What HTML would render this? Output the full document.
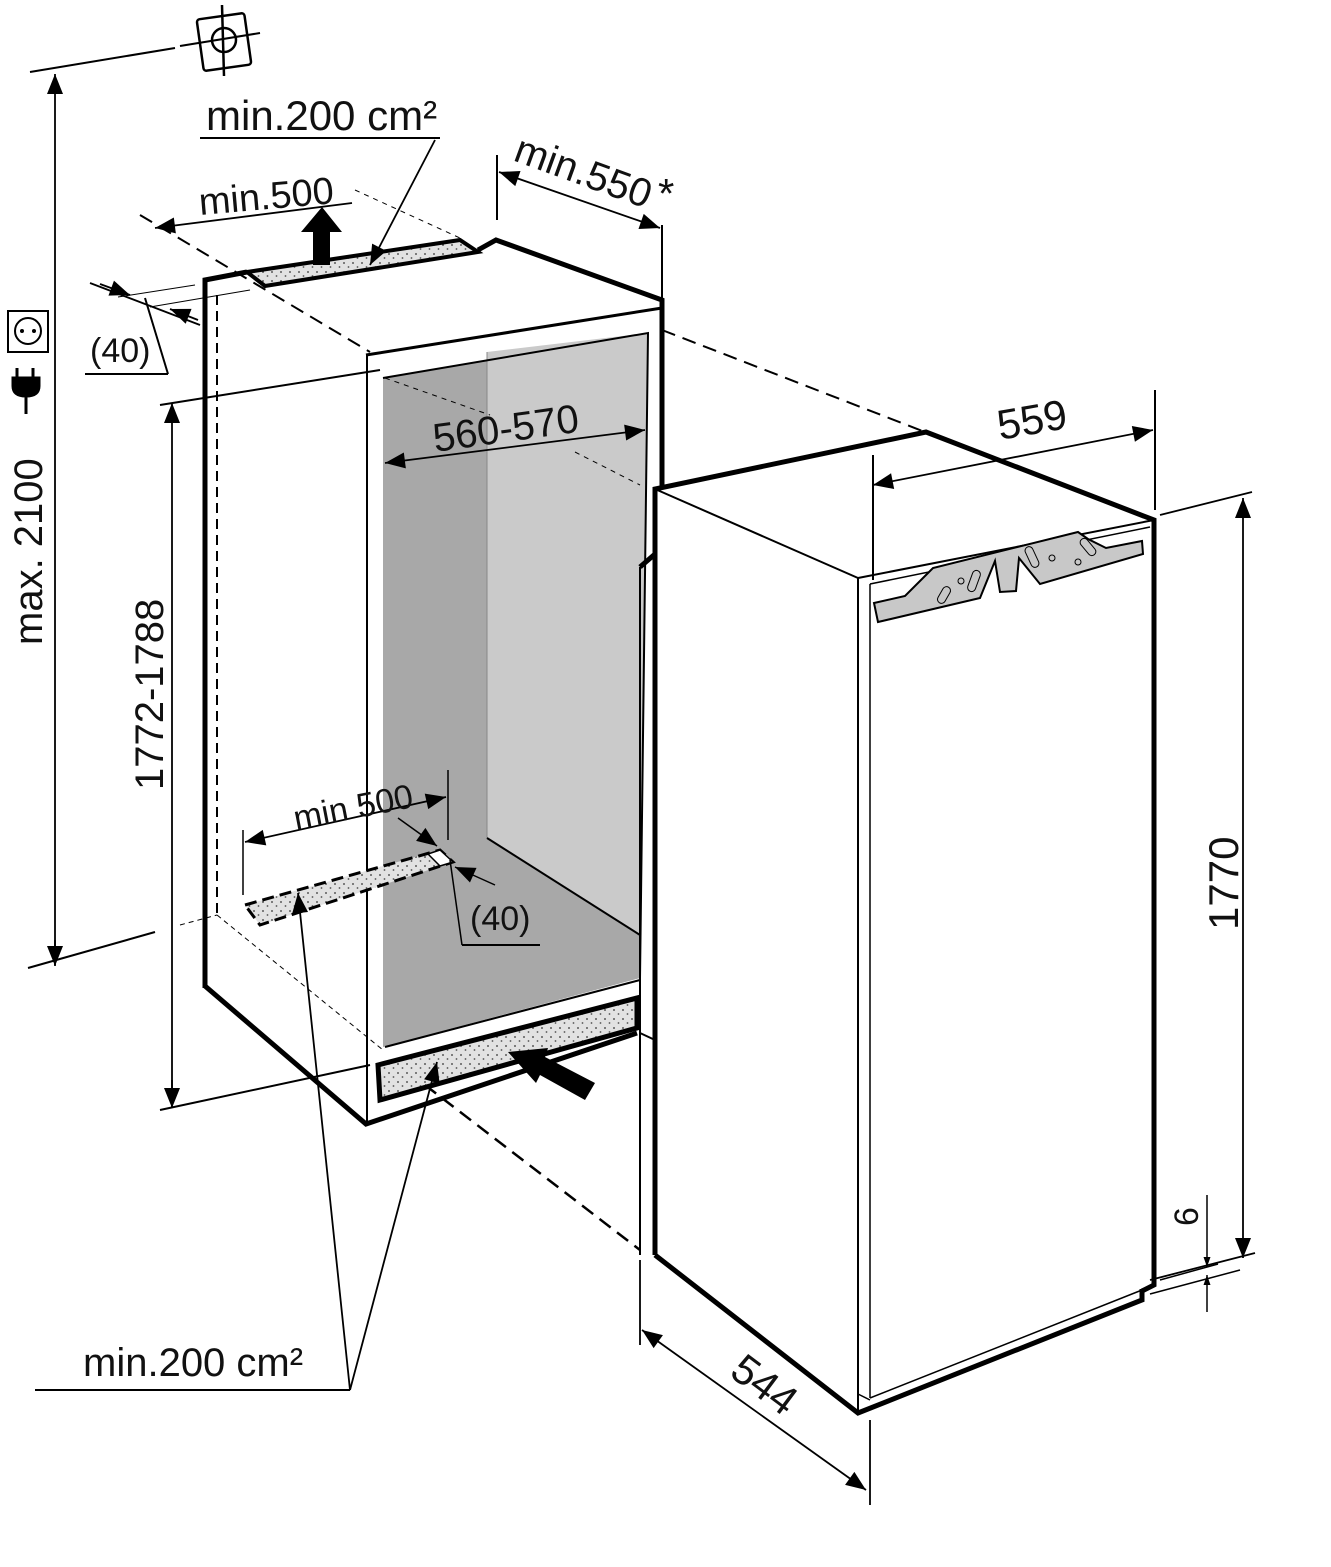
<!DOCTYPE html>
<html><head><meta charset="utf-8"><style>
html,body{margin:0;padding:0;background:#fff;}
svg{display:block;}
text{font-family:"Liberation Sans",Arial,sans-serif;fill:#111;}
</style></head><body>
<svg width="1331" height="1567" viewBox="0 0 1331 1567" xmlns="http://www.w3.org/2000/svg">
<defs>
<marker id="a" viewBox="0 0 10 10" refX="10" refY="5" markerWidth="10" markerHeight="10" markerUnits="userSpaceOnUse" orient="auto-start-reverse"><path d="M0,1.5 L10,5 L0,8.5 z" fill="#000"/></marker>
<marker id="A" viewBox="0 0 10 10" refX="10" refY="5" markerWidth="28" markerHeight="20" markerUnits="userSpaceOnUse" orient="auto-start-reverse"><path d="M0,1 L10,5 L0,9 z" fill="#000"/></marker>
<pattern id="dots" width="9" height="9" patternUnits="userSpaceOnUse"><rect width="9" height="9" fill="#e2e2e2"/><circle cx="2" cy="2" r="0.9" fill="#333"/><circle cx="6.5" cy="6" r="0.9" fill="#555"/></pattern>
</defs>
<g fill="none" stroke="#000" stroke-linejoin="miter">

<polygon points="383,378 648,333 640,978 383,1047" fill="#a8a8a8" stroke="none"/>
<polygon points="487,352 648,333 640,935 487,838" fill="#cacaca" stroke="none"/>
<line x1="487" y1="352" x2="487" y2="838" stroke="#888" stroke-width="1"/>
<line x1="487" y1="838" x2="640" y2="935" stroke-width="2"/>
<polyline points="383,378 648,333 640,978" stroke-width="2"/>

<polyline points="205,988 205,280 247,272" stroke-width="5"/>
<polyline points="478,250 496,240 662,300 662,548 640,567" stroke-width="5"/>
<polyline points="205,986 366,1124 637,1033" stroke-width="5"/>
<line x1="367" y1="355" x2="367" y2="1122" stroke-width="2"/>
<line x1="366" y1="355" x2="662" y2="308" stroke-width="3"/>
<line x1="640" y1="567" x2="640" y2="1255" stroke-width="2"/>
<line x1="655" y1="1040" x2="640" y2="1033" stroke-width="2"/>
<line x1="217" y1="295" x2="217" y2="915" stroke-width="2" stroke-dasharray="10,6"/>
<line x1="217" y1="915" x2="383" y2="1050" stroke-width="1" stroke-dasharray="5,4"/>
<line x1="385" y1="1047" x2="640" y2="980" stroke-width="2"/>

<polygon points="247,272 460,240 478,252 265,286" fill="url(#dots)" stroke-width="4"/>
<polygon points="245,905 440,850 453,862 260,925" fill="url(#dots)" stroke-width="3" stroke-dasharray="12,6"/>
<polygon points="440,850 453,862 440,866 428,854" fill="#fff" stroke-width="1.5"/>
<polygon points="378,1065 637,998 637,1028 380,1100" fill="url(#dots)" stroke-width="5"/>
<polygon points="595,1083 585,1100 540,1075 536,1083 508,1052 548,1048 545,1057" fill="#000" stroke="none"/>
<polygon points="313,265 313,232 301,232 322,207 342,232 330,232 330,265" fill="#000" stroke="none"/>

<line x1="140" y1="215" x2="370" y2="352" stroke-width="2" stroke-dasharray="14,8"/>
<line x1="355" y1="190" x2="460" y2="238" stroke-width="1" stroke-dasharray="5,5"/>
<line x1="662" y1="330" x2="925" y2="432" stroke-width="2" stroke-dasharray="14,8"/>
<line x1="385" y1="378" x2="490" y2="415" stroke-width="1" stroke-dasharray="5,5"/>
<line x1="575" y1="452" x2="640" y2="485" stroke-width="1" stroke-dasharray="5,5"/>
<line x1="425" y1="1085" x2="640" y2="1250" stroke-width="2.5" stroke-dasharray="14,8"/>
<line x1="180" y1="925" x2="217" y2="915" stroke-width="1" stroke-dasharray="5,4"/>

<polygon points="655,487 926,432 1154,520 1154,1285 1142,1291 1142,1300 858,1413 655,1255" fill="#fff" stroke="none"/>
<polyline points="655,1255 655,489 926,432 1154,520 1154,1285 1142,1291" stroke-width="5"/>
<polyline points="655,1255 858,1413 1142,1300 1142,1289" stroke-width="5"/>
<line x1="655" y1="489" x2="858" y2="578" stroke-width="2"/>
<line x1="858" y1="578" x2="1154" y2="520" stroke-width="2"/>
<line x1="858" y1="578" x2="858" y2="1411" stroke-width="2"/>
<line x1="870" y1="584" x2="870" y2="1398" stroke-width="1.5"/>
<line x1="870" y1="1398" x2="1142" y2="1290" stroke-width="1.5"/>
<line x1="858" y1="1394" x2="870" y2="1400" stroke-width="1.5"/>
<line x1="870" y1="584" x2="1150" y2="527" stroke-width="1.5"/>
<polygon points="874,603 905,596 926,575 933,568 1078,532 1088,539 1106,548 1142,541 1143,554 1040,584 1019,558 1016,591 1000,592 995,561 980,598 878,622" fill="#c8c8c8" stroke-width="2"/>
<g stroke-width="1" fill="none">
<rect x="940" y="586" width="8" height="18" rx="4" transform="rotate(30 944 595)"/>
<rect x="970" y="570" width="8" height="22" rx="4" transform="rotate(20 974 581)"/>
<rect x="1028" y="546" width="8" height="22" rx="4" transform="rotate(-25 1032 557)"/>
<rect x="1084" y="537" width="8" height="20" rx="4" transform="rotate(-40 1088 547)"/>
<circle cx="961" cy="581" r="3"/><circle cx="1052" cy="558" r="3"/><circle cx="1078" cy="562" r="3"/>
</g>

<line x1="497" y1="155" x2="497" y2="220" stroke-width="2"/>
<line x1="662" y1="225" x2="662" y2="300" stroke-width="2"/>
<line x1="499" y1="172" x2="660" y2="228" stroke-width="1.8" marker-start="url(#A)" marker-end="url(#A)"/>
<line x1="352" y1="203" x2="155" y2="228" stroke-width="1.8" marker-end="url(#A)"/>
<line x1="200" y1="138" x2="440" y2="138" stroke-width="2"/>
<line x1="435" y1="140" x2="370" y2="265" stroke-width="1.8" marker-end="url(#A)"/>
<line x1="90" y1="283" x2="200" y2="325" stroke-width="1.8"/>
<line x1="100" y1="284" x2="130" y2="295" stroke-width="1.8" marker-end="url(#A)"/>
<line x1="198" y1="320" x2="170" y2="309" stroke-width="1.8" marker-end="url(#A)"/>
<line x1="118" y1="297" x2="195" y2="285" stroke-width="1"/>
<line x1="150" y1="307" x2="250" y2="290" stroke-width="1"/>
<line x1="85" y1="374" x2="168" y2="374" stroke-width="2"/>
<line x1="168" y1="374" x2="145" y2="298" stroke-width="2"/>
<line x1="385" y1="463" x2="645" y2="430" stroke-width="1.8" marker-start="url(#A)" marker-end="url(#A)"/>
<line x1="243" y1="830" x2="243" y2="895" stroke-width="1.5"/>
<line x1="448" y1="770" x2="448" y2="840" stroke-width="1.5"/>
<line x1="245" y1="842" x2="446" y2="797" stroke-width="1.8" marker-start="url(#A)" marker-end="url(#A)"/>
<line x1="398" y1="818" x2="437" y2="846" stroke-width="1.5" marker-end="url(#A)"/>
<line x1="495" y1="885" x2="455" y2="867" stroke-width="1.5" marker-end="url(#A)"/>
<line x1="450" y1="860" x2="462" y2="945" stroke-width="1.5"/>
<line x1="462" y1="945" x2="540" y2="945" stroke-width="2"/>
<line x1="30" y1="72" x2="175" y2="48" stroke-width="2"/>
<line x1="180" y1="46" x2="260" y2="33" stroke-width="2"/>
<line x1="55" y1="965" x2="55" y2="74" stroke-width="1.8" marker-end="url(#A)"/>
<line x1="55" y1="940" x2="55" y2="966" stroke-width="1.8" marker-end="url(#A)"/>
<line x1="28" y1="968" x2="155" y2="932" stroke-width="2"/>
<rect x="200" y="16" width="48" height="52" rx="3" stroke-width="2.5" transform="rotate(-8 224 42)"/>
<circle cx="224" cy="40" r="12" stroke-width="2.5"/>
<line x1="222" y1="5" x2="224" y2="76" stroke-width="2.5"/>
<rect x="8" y="311" width="40" height="41" stroke-width="2"/>
<circle cx="28" cy="331" r="13" stroke-width="2"/>
<circle cx="22" cy="331" r="2" fill="#000" stroke="none"/>
<circle cx="34" cy="331" r="2" fill="#000" stroke="none"/>
<path d="M17,368 v10 M33,368 v10 M13,378 h26 v8 q0,10 -13,10 q-13,0 -13,-10 z M26,396 v18" stroke-width="3" fill="#000"/>
<line x1="160" y1="405" x2="380" y2="370" stroke-width="2"/>
<line x1="160" y1="1110" x2="370" y2="1065" stroke-width="2"/>
<line x1="172" y1="1108" x2="172" y2="403" stroke-width="1.8" marker-end="url(#A)"/>
<line x1="172" y1="1080" x2="172" y2="1108" stroke-width="1.8" marker-end="url(#A)"/>
<line x1="35" y1="1390" x2="350" y2="1390" stroke-width="2"/>
<line x1="350" y1="1390" x2="298" y2="893" stroke-width="1.8" marker-end="url(#A)"/>
<line x1="350" y1="1390" x2="437" y2="1062" stroke-width="1.8" marker-end="url(#A)"/>
<line x1="873" y1="455" x2="873" y2="580" stroke-width="2"/>
<line x1="1155" y1="390" x2="1155" y2="510" stroke-width="2"/>
<line x1="873" y1="485" x2="1153" y2="430" stroke-width="1.8" marker-start="url(#A)" marker-end="url(#A)"/>
<line x1="1160" y1="515" x2="1252" y2="492" stroke-width="1.8"/>
<line x1="1150" y1="1280" x2="1255" y2="1253" stroke-width="1.8"/>
<line x1="1243" y1="498" x2="1243" y2="1258" stroke-width="1.8" marker-start="url(#A)" marker-end="url(#A)"/>
<line x1="1160" y1="1280" x2="1218" y2="1264" stroke-width="1.5"/>
<line x1="1150" y1="1294" x2="1240" y2="1270" stroke-width="1.5"/>
<line x1="1207" y1="1195" x2="1207" y2="1267" stroke-width="1.5" marker-end="url(#a)"/>
<line x1="1207" y1="1312" x2="1207" y2="1275" stroke-width="1.5" marker-end="url(#a)"/>
<line x1="640" y1="1260" x2="640" y2="1345" stroke-width="1.8"/>
<line x1="870" y1="1420" x2="870" y2="1505" stroke-width="1.8"/>
<line x1="642" y1="1330" x2="866" y2="1490" stroke-width="1.8" marker-start="url(#A)" marker-end="url(#A)"/>
</g>

<text x="206" y="130" font-size="42">min.200 cm²</text>
<text x="200" y="215" font-size="38" transform="rotate(-5 200 215)">min.500</text>
<text x="512" y="160" font-size="40" transform="rotate(20 512 160)">min.550</text>
<text x="658" y="208" font-size="42">*</text>
<text x="90" y="362" font-size="34">(40)</text>
<text x="435" y="452" font-size="40" transform="rotate(-8 435 452)">560-570</text>
<text x="296" y="830" font-size="34" transform="rotate(-11 296 830)">min 500</text>
<text x="470" y="930" font-size="34">(40)</text>
<text x="83" y="1376" font-size="40">min.200 cm²</text>
<text x="42" y="645" font-size="40" transform="rotate(-90 42 645)">max. 2100</text>
<text x="163" y="790" font-size="40" transform="rotate(-90 163 790)">1772-1788</text>
<text x="1000" y="440" font-size="42" transform="rotate(-10 1000 440)">559</text>
<text x="1238" y="930" font-size="42" transform="rotate(-90 1238 930)">1770</text>
<text x="1198" y="1226" font-size="34" transform="rotate(-90 1198 1226)">6</text>
<text x="728" y="1375" font-size="42" transform="rotate(37 728 1375)">544</text>
</svg>
</body></html>
